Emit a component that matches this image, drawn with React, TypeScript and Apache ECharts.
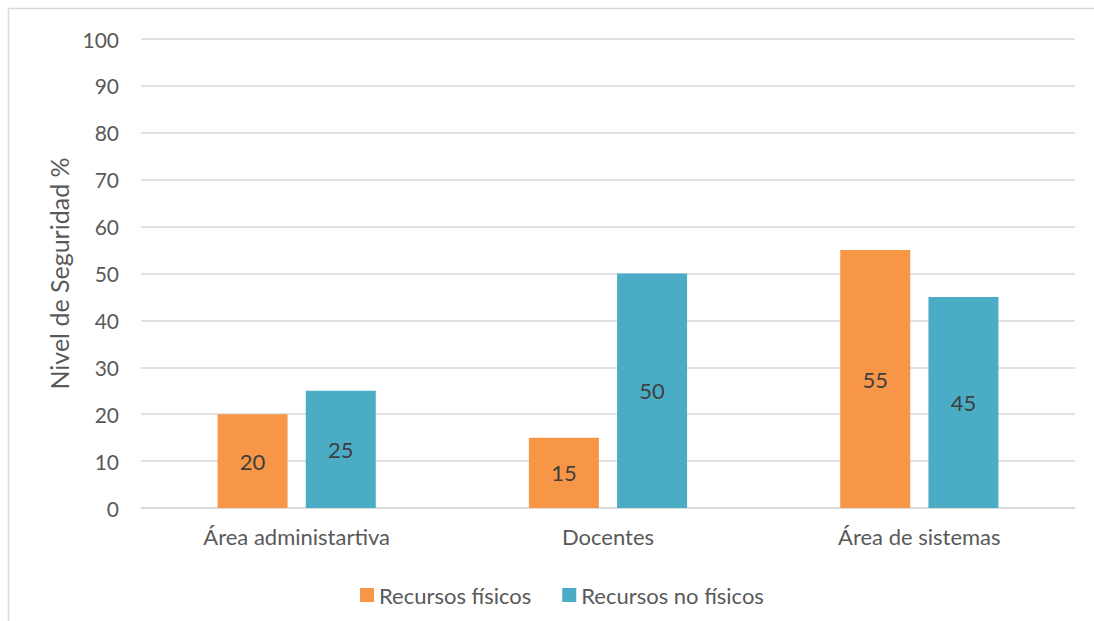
import React, { useEffect, useRef } from "react";
import * as echarts from "echarts";

const categories = ["Área administartiva", "Docentes", "Área de sistemas"];
const fisicos = [20, 15, 55];
const noFisicos = [25, 50, 45];
const seriesNames = ["Recursos físicos", "Recursos no físicos"];
const yAxisName = "Nivel de Seguridad %";

const FONT = "Lato, 'Noto Sans', sans-serif";
const TXT = "#595959";

export default function App() {
  const ref = useRef<HTMLDivElement>(null);
  useEffect(() => {
    const chart = echarts.init(ref.current!, null, { renderer: "svg" });
    chart.setOption({
      animation: false,
      textStyle: { fontFamily: FONT },
      graphic: [
        {
          type: "rect",
          shape: { x: 8.5, y: 8.5, width: 1200, height: 800 },
          style: { fill: "none", stroke: "#d9d9d9", lineWidth: 1.5 },
          silent: true,
        },
      ],
      grid: { left: 141, right: 19, top: 39, bottom: 113 },
      legend: {
        left: 355,
        top: 579,
        itemWidth: 14,
        itemHeight: 14,
        itemGap: 31,
        icon: "rect",
        textStyle: { color: TXT, fontSize: 22, fontFamily: FONT },
        data: seriesNames,
      },
      xAxis: {
        type: "category",
        data: categories,
        axisTick: { show: false },
        axisLine: { lineStyle: { color: "#d9d9d9", width: 1.5 } },
        axisLabel: { color: TXT, fontSize: 22, margin: 17, fontFamily: FONT },
      },
      yAxis: {
        type: "value",
        min: 0,
        max: 100,
        interval: 10,
        name: yAxisName,
        nameLocation: "middle",
        nameGap: 70,
        nameTextStyle: { color: TXT, fontSize: 25, fontFamily: FONT },
        axisLabel: { color: TXT, fontSize: 21, margin: 22, fontFamily: FONT },
        splitLine: { lineStyle: { color: "#d9d9d9", width: 1.5 } },
        axisLine: { show: false },
        axisTick: { show: false },
      },
      series: [
        {
          name: seriesNames[0],
          type: "bar",
          data: fisicos,
          barWidth: 70,
          barGap: "26%",
          itemStyle: { color: "#F79646" },
          label: { show: true, position: "inside", color: "#404040", fontSize: 22, fontFamily: FONT },
        },
        {
          name: seriesNames[1],
          type: "bar",
          data: noFisicos,
          barWidth: 70,
          itemStyle: { color: "#4BACC6" },
          label: { show: true, position: "inside", color: "#404040", fontSize: 22, fontFamily: FONT },
        },
      ],
    });
    return () => chart.dispose();
  }, []);
  return (
    <div
      ref={ref}
      style={{ position: "absolute", left: 0, top: 0, width: 1094, height: 621, background: "#fff" }}
    />
  );
}
